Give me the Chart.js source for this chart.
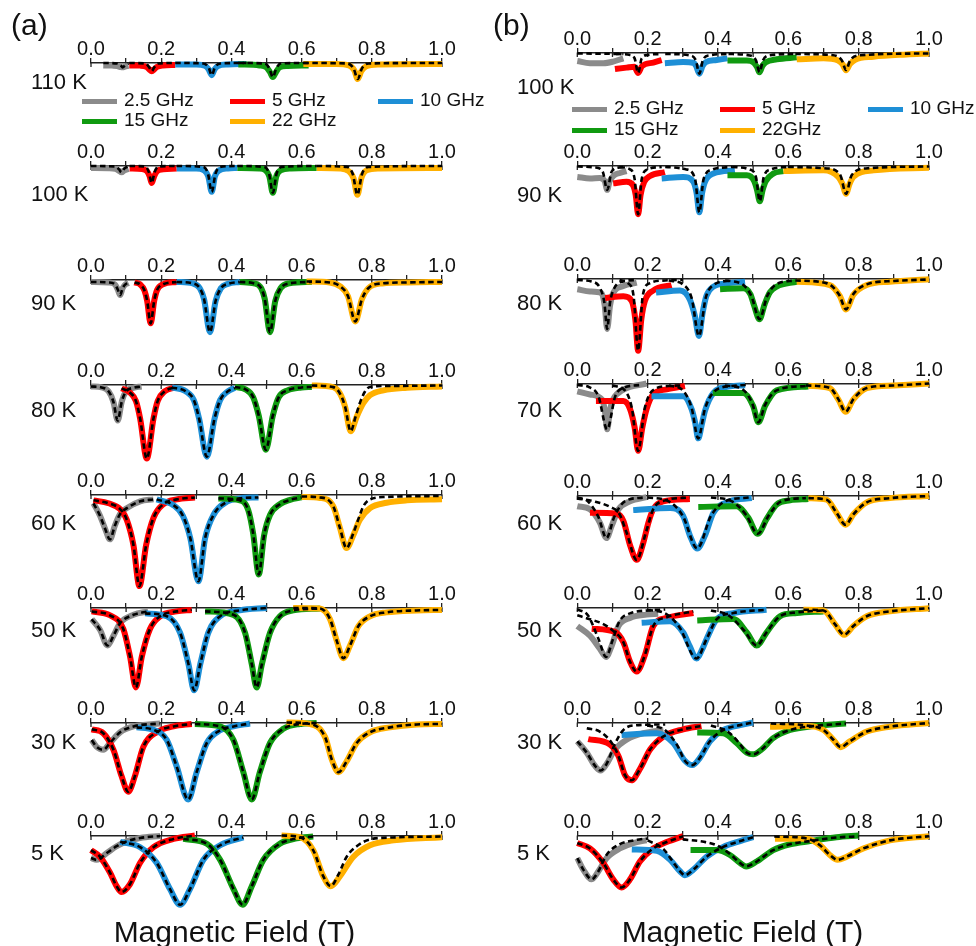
<!DOCTYPE html>
<html>
<head>
<meta charset="utf-8">
<script src="https://cdn.jsdelivr.net/npm/chart.js@4.4.0/dist/chart.umd.min.js"></script>
<style>
  body { margin: 0; background: #fff; }
  #page { position: relative; width: 976px; height: 946px; overflow: hidden; font-family: "Liberation Sans", Arial, sans-serif; color: #111; }
  #page canvas { position: absolute; }
  .txt { position: absolute; white-space: nowrap; line-height: 1.2; }
  .key { position: absolute; width: 35px; height: 5px; }
</style>
</head>
<body>
<div id="page"></div>
<script>
// ---------------- labels ----------------
const fieldTickLabels = ['0.0', '0.2', '0.4', '0.6', '0.8', '1.0'];
const freqLabelsA = ['2.5 GHz', '5 GHz', '10 GHz', '15 GHz', '22 GHz'];
const freqLabelsB = ['2.5 GHz', '5 GHz', '10 GHz', '15 GHz', '22GHz'];
const tempsA = ['110 K', '100 K', '90 K', '80 K', '60 K', '50 K', '30 K', '5 K'];
const tempsB = ['100 K', '90 K', '80 K', '70 K', '60 K', '50 K', '30 K', '5 K'];
const xTitle = 'Magnetic Field (T)';

// ---------------- panel (a) data: [field (T), signal] ----------------
const a110Gray = [[0.035,-3],[0.06,-3.2],[0.075,-3.6],[0.085,-4.8],[0.09,-5],[0.097,-4.2],[0.107,-3.5]];
const a110Red = [[0.109,-3],[0.14,-3.2],[0.158,-4.5],[0.166,-7],[0.173,-9],[0.18,-7],[0.188,-4.5],[0.205,-3],[0.24,-2.5]];
const a110Blue = [[0.24,-2],[0.3,-2],[0.325,-3.5],[0.335,-7],[0.344,-13],[0.352,-7],[0.362,-3.5],[0.39,-2],[0.443,-1.5]];
const a110Green = [[0.42,-2],[0.48,-3],[0.5,-5],[0.51,-10],[0.518,-15],[0.527,-10],[0.537,-5],[0.56,-3.5],[0.62,-3]];
const a110Orange = [[0.605,-1.5],[0.7,-1.5],[0.735,-3],[0.75,-8],[0.76,-17],[0.77,-9],[0.783,-4],[0.82,-2],[1.0,-1.5]];
const a110GrayFit = [[0.035,-0.5],[0.075,-1],[0.085,-3],[0.09,-5],[0.097,-3],[0.107,-1]];
const a110RedFit = [[0.109,-0.5],[0.155,-1],[0.166,-5],[0.173,-9],[0.18,-5],[0.19,-1],[0.24,-0.5]];
const a110BlueFit = [[0.24,-0.5],[0.32,-1],[0.335,-5],[0.344,-13],[0.353,-5],[0.368,-1],[0.443,-0.5]];
const a110GreenFit = [[0.42,-0.5],[0.495,-1],[0.508,-6],[0.518,-15],[0.528,-6],[0.54,-1],[0.62,-0.5]];
const a110OrangeFit = [[0.605,-0.5],[0.73,-1],[0.748,-6],[0.76,-17],[0.772,-6],[0.79,-1],[1.0,-0.5]];

const a100Gray = [[0,-2.5],[0.05,-2.7],[0.07,-3.5],[0.08,-5.5],[0.087,-7],[0.095,-5],[0.107,-3.5]];
const a100Red = [[0.11,-3],[0.145,-3.5],[0.16,-6],[0.167,-11],[0.173,-18],[0.18,-11],[0.188,-6],[0.205,-4],[0.244,-3]];
const a100Blue = [[0.244,-3],[0.3,-3],[0.322,-5],[0.334,-11],[0.344,-27],[0.353,-11],[0.365,-5],[0.39,-3],[0.417,-2.5]];
const a100Green = [[0.417,-2.5],[0.48,-3],[0.497,-5],[0.508,-11],[0.518,-28],[0.528,-11],[0.54,-5],[0.57,-3],[0.643,-2.5]];
const a100Orange = [[0.643,-2.5],[0.71,-3],[0.735,-6],[0.748,-13],[0.759,-30],[0.77,-13],[0.785,-5],[0.82,-3],[1.0,-2.5]];
const a100GrayFit = [[0,-0.5],[0.07,-1],[0.08,-4],[0.087,-7],[0.095,-3],[0.107,-1]];
const a100RedFit = [[0.11,-0.5],[0.155,-1],[0.165,-7],[0.173,-18],[0.181,-7],[0.192,-1],[0.244,-0.5]];
const a100BlueFit = [[0.244,-0.5],[0.32,-1.5],[0.333,-8],[0.344,-27],[0.355,-8],[0.368,-1.5],[0.417,-0.5]];
const a100GreenFit = [[0.417,-0.5],[0.493,-1.5],[0.507,-8],[0.518,-28],[0.529,-8],[0.543,-1.5],[0.643,-0.5]];
const a100OrangeFit = [[0.643,-0.5],[0.73,-1.5],[0.746,-9],[0.759,-30],[0.772,-9],[0.79,-1.5],[1.0,-0.5]];

const a90Gray = [[0,-2.5],[0.05,-3],[0.068,-5],[0.076,-10],[0.083,-16],[0.09,-9],[0.098,-5],[0.107,-3.5]];
const a90Red = [[0.124,-3],[0.14,-5],[0.152,-11],[0.16,-22],[0.17,-45],[0.18,-22],[0.188,-11],[0.205,-5],[0.244,-2.5]];
const a90Blue = [[0.244,-2.5],[0.29,-4],[0.31,-9],[0.322,-20],[0.339,-54],[0.355,-22],[0.37,-9],[0.39,-4.5],[0.424,-2.5]];
const a90Green = [[0.424,-2.5],[0.465,-4],[0.485,-9],[0.495,-20],[0.51,-54],[0.525,-22],[0.54,-9],[0.565,-4],[0.629,-2.5]];
const a90Orange = [[0.614,-2],[0.68,-3],[0.71,-7],[0.732,-17],[0.753,-43],[0.772,-20],[0.79,-9],[0.83,-4],[0.9,-3],[1.0,-2.5]];

const a80Gray = [[0,-2],[0.03,-3],[0.05,-7],[0.064,-18],[0.076,-37],[0.088,-17],[0.1,-7],[0.12,-3.5],[0.144,-2]];
const a80Red = [[0.087,-4],[0.11,-8],[0.128,-17],[0.14,-35],[0.159,-76],[0.178,-35],[0.19,-17],[0.21,-7],[0.24,-3]];
const a80Blue = [[0.23,-3],[0.27,-7],[0.293,-16],[0.308,-35],[0.33,-74],[0.352,-35],[0.368,-16],[0.39,-7],[0.41,-3.5]];
const a80Green = [[0.41,-2.5],[0.44,-5],[0.462,-13],[0.478,-32],[0.498,-67],[0.518,-32],[0.535,-13],[0.56,-6],[0.6,-3],[0.629,-2.5]];
const a80Orange = [[0.629,-1],[0.69,-2.7],[0.709,-9],[0.724,-23],[0.74,-48],[0.757,-33],[0.776,-19],[0.795,-11],[0.833,-6],[0.9,-3.3],[1.0,-2]];
const a80OrangeFit = [[0.629,-1],[0.69,-2.7],[0.709,-9],[0.724,-23],[0.74,-48],[0.753,-34],[0.766,-19],[0.781,-7],[0.795,-2.5],[0.85,-1.5],[1.0,-1]];

const a60Gray = [[0.007,-9],[0.026,-22],[0.04,-35],[0.054,-46],[0.068,-32],[0.083,-20],[0.102,-14],[0.14,-7],[0.178,-5]];
const a60Red = [[0.007,-6],[0.05,-9],[0.083,-15],[0.102,-26],[0.121,-52],[0.138,-94],[0.157,-52],[0.178,-24],[0.206,-10],[0.244,-5],[0.296,-3]];
const a60Blue = [[0.187,-5],[0.235,-11],[0.262,-22],[0.283,-45],[0.306,-89],[0.325,-45],[0.349,-21],[0.387,-7.5],[0.424,-4],[0.477,-3]];
const a60Green = [[0.363,-4],[0.424,-6],[0.448,-16],[0.462,-40],[0.478,-82],[0.493,-42],[0.51,-21],[0.538,-10],[0.567,-5.5],[0.6,-3]];
const a60Orange = [[0.6,-2.5],[0.652,-3.5],[0.69,-12],[0.709,-34],[0.728,-55],[0.747,-42],[0.766,-26],[0.795,-14],[0.842,-8.5],[0.9,-6],[1.0,-5]];
const a60OrangeFit = [[0.6,-2],[0.652,-3],[0.69,-12],[0.709,-34],[0.728,-55],[0.747,-40],[0.762,-25],[0.776,-12],[0.795,-5],[0.84,-2.5],[1.0,-1.5]];

const a50Gray = [[0.002,-12],[0.026,-23],[0.047,-39],[0.064,-29],[0.083,-16],[0.121,-7.5],[0.163,-4]];
const a50Red = [[0.002,-4],[0.054,-8],[0.092,-22],[0.111,-50],[0.128,-82],[0.145,-50],[0.168,-22],[0.197,-9],[0.244,-4],[0.287,-2.5]];
const a50Blue = [[0.154,-6],[0.216,-9],[0.254,-26],[0.277,-57],[0.294,-85],[0.312,-57],[0.334,-26],[0.368,-9],[0.424,-3],[0.5,-0.5]];
const a50Green = [[0.325,-4],[0.406,-7.5],[0.439,-26],[0.458,-58],[0.472,-82],[0.487,-58],[0.51,-26],[0.538,-9],[0.576,-3],[0.652,-1]];
const a50Orange = [[0.576,-0.5],[0.652,-1],[0.681,-12],[0.7,-34],[0.719,-52],[0.738,-39],[0.762,-19],[0.795,-9],[0.842,-5],[0.928,-3],[1.0,-2.5]];

const a30Gray = [[0.002,-18],[0.016,-25],[0.035,-28],[0.054,-21],[0.083,-10],[0.121,-4],[0.197,-1]];
const a30Red = [[0.002,-7],[0.035,-11],[0.064,-28],[0.087,-55],[0.106,-71],[0.125,-55],[0.149,-25],[0.187,-10],[0.235,-4],[0.287,-1.5]];
const a30Blue = [[0.13,-5],[0.178,-7.5],[0.216,-18],[0.244,-45],[0.277,-79],[0.301,-51],[0.33,-21],[0.368,-8],[0.406,-4],[0.453,-1]];
const a30Green = [[0.296,-1.5],[0.368,-4],[0.406,-18],[0.434,-51],[0.458,-79],[0.481,-51],[0.51,-21],[0.548,-6.5],[0.595,-1.5],[0.643,-0.5]];
const a30Orange = [[0.557,0],[0.624,-1.5],[0.667,-15],[0.686,-38],[0.705,-51],[0.728,-40],[0.757,-21],[0.795,-10],[0.852,-5],[0.928,-2],[1.0,-1.5]];

const a5Gray = [[0,-23],[0.016,-25],[0.045,-18],[0.073,-11],[0.102,-6],[0.14,-2.5],[0.197,-0.5]];
const a5Red = [[0,-15],[0.026,-22],[0.054,-38],[0.073,-52],[0.087,-58],[0.111,-50],[0.14,-28],[0.178,-12],[0.235,-3.5],[0.296,0]];
const a5Blue = [[0.083,-6.5],[0.14,-12],[0.187,-28],[0.225,-55],[0.254,-71],[0.282,-55],[0.32,-25],[0.368,-10],[0.434,-2]];
const a5Green = [[0.263,-3.5],[0.33,-8.5],[0.368,-25],[0.406,-55],[0.432,-71],[0.458,-52],[0.491,-25],[0.538,-8.5],[0.586,-3],[0.633,-1]];
const a5Orange = [[0.543,0],[0.595,-1.7],[0.633,-15],[0.662,-42],[0.683,-52],[0.709,-42],[0.747,-22],[0.795,-10],[0.862,-5],[1.0,-1.7]];
const a5OrangeFit = [[0.543,0],[0.595,-1.7],[0.633,-15],[0.662,-42],[0.683,-52],[0.705,-40],[0.728,-22],[0.757,-11],[0.795,-4],[0.86,-2],[1.0,-1]];

// ---------------- panel (b) data ----------------
const b100Gray = [[0,-8.7],[0.036,-11],[0.074,-11],[0.102,-9.3],[0.131,-6]];
const b100Red = [[0.107,-17],[0.14,-15.5],[0.162,-14.5],[0.173,-21],[0.184,-14],[0.216,-10.3],[0.24,-7.7]];
const b100Blue = [[0.249,-11],[0.301,-9.7],[0.33,-10.5],[0.338,-14],[0.347,-21.7],[0.356,-14],[0.365,-10],[0.396,-7.7],[0.427,-6]];
const b100Green = [[0.427,-8.3],[0.482,-8.3],[0.502,-10.5],[0.511,-15],[0.518,-20.3],[0.526,-14],[0.536,-10],[0.567,-7],[0.624,-5]];
const b100Orange = [[0.624,-7],[0.7,-6],[0.74,-8],[0.754,-12],[0.764,-18.3],[0.775,-12],[0.79,-7.5],[0.842,-4.3],[0.936,-2],[1.0,-1]];
const b100GrayFit = [[0,-1],[0.131,-1.5]];
const b100RedFit = [[0.11,-1.5],[0.15,-2.5],[0.163,-6],[0.173,-21],[0.183,-6],[0.2,-2.5],[0.24,-1.5]];
const b100BlueFit = [[0.25,-1.5],[0.32,-3],[0.337,-8],[0.347,-21.7],[0.357,-8],[0.375,-3],[0.43,-1.5]];
const b100GreenFit = [[0.43,-1.5],[0.49,-3],[0.508,-8],[0.518,-20],[0.528,-8],[0.545,-3],[0.62,-1.5]];
const b100OrangeFit = [[0.62,-1.5],[0.72,-2.5],[0.752,-8],[0.764,-18],[0.776,-8],[0.8,-3],[1.0,-1]];

const b90Gray = [[0,-11.7],[0.036,-13.3],[0.064,-12.7],[0.078,-16],[0.085,-25],[0.092,-16],[0.105,-10],[0.121,-7.7],[0.14,-5.7]];
const b90Red = [[0.102,-18.3],[0.14,-16.7],[0.158,-20],[0.166,-30],[0.173,-50],[0.18,-30],[0.19,-17],[0.207,-10.7],[0.249,-6.7]];
const b90Blue = [[0.24,-13.3],[0.301,-11.7],[0.33,-16.7],[0.339,-28],[0.347,-48],[0.355,-28],[0.363,-16.7],[0.387,-8.3],[0.448,-5]];
const b90Green = [[0.427,-10],[0.482,-10],[0.503,-16],[0.511,-25],[0.519,-36.7],[0.527,-25],[0.536,-16],[0.557,-8.3],[0.586,-5.7]];
const b90Orange = [[0.586,-5.7],[0.7,-5],[0.742,-11.7],[0.754,-19],[0.764,-29],[0.774,-19],[0.785,-11.7],[0.842,-5],[1.0,-2.3]];
const b90GrayFit = [[0,-1],[0.05,-2],[0.072,-6],[0.085,-25],[0.098,-6],[0.12,-2],[0.14,-1.5]];
const b90RedFit = [[0.12,-1.5],[0.15,-4],[0.163,-14],[0.173,-50],[0.183,-14],[0.2,-4],[0.24,-1.5]];
const b90BlueFit = [[0.25,-1.5],[0.31,-4],[0.335,-14],[0.347,-48],[0.359,-14],[0.385,-4],[0.44,-1.5]];
const b90GreenFit = [[0.44,-1.5],[0.49,-4],[0.508,-12],[0.519,-36.7],[0.53,-12],[0.55,-4],[0.6,-1.5]];
const b90OrangeFit = [[0.6,-1.5],[0.71,-3],[0.748,-10],[0.764,-29],[0.78,-10],[0.82,-3],[1.0,-1]];

const b80Gray = [[0,-11],[0.036,-13.3],[0.069,-15],[0.078,-28],[0.085,-51.7],[0.093,-28],[0.102,-15],[0.131,-7.7],[0.169,-4.3]];
const b80Red = [[0.079,-20],[0.131,-18.3],[0.155,-23.3],[0.165,-42],[0.173,-74],[0.182,-42],[0.192,-23.3],[0.216,-12.3],[0.268,-6.7]];
const b80Blue = [[0.224,-14.3],[0.292,-12.3],[0.32,-21.7],[0.334,-38],[0.346,-59],[0.356,-36],[0.367,-18],[0.387,-8.3],[0.425,-5],[0.477,-3.3]];
const b80Green = [[0.406,-11],[0.472,-10],[0.492,-16],[0.503,-28],[0.518,-41.7],[0.533,-26],[0.548,-14],[0.567,-8.3],[0.624,-3.3]];
const b80Orange = [[0.624,-3.3],[0.718,-6.7],[0.747,-18.3],[0.764,-31.7],[0.785,-16.7],[0.823,-6.7],[0.889,-3.3],[1.0,-0.7]];
const b80GrayFit = [[0,-1.5],[0.04,-3],[0.065,-10],[0.077,-25],[0.085,-51.7],[0.093,-25],[0.105,-10],[0.13,-3],[0.17,-1.5]];
const b80RedFit = [[0.12,-1.5],[0.145,-5],[0.16,-18],[0.173,-74],[0.186,-18],[0.205,-5],[0.25,-2],[0.3,-1.5]];
const b80BlueFit = [[0.26,-2],[0.3,-6],[0.325,-20],[0.346,-59],[0.365,-20],[0.39,-6],[0.44,-2]];
const b80GreenFit = [[0.42,-2],[0.47,-6],[0.495,-18],[0.518,-41.7],[0.54,-18],[0.565,-6],[0.62,-2]];
const b80OrangeFit = [[0.62,-2],[0.71,-5],[0.745,-17],[0.764,-31.7],[0.785,-16],[0.823,-6],[0.9,-2.5],[1.0,-1]];

const b70Gray = [[0,-8],[0.036,-11.3],[0.07,-16.3],[0.078,-27],[0.085,-47],[0.093,-27],[0.102,-16.3],[0.131,-6.3],[0.197,0]];
const b70Red = [[0.053,-18],[0.131,-18],[0.15,-26.3],[0.163,-45],[0.173,-69],[0.185,-45],[0.197,-26.3],[0.216,-11],[0.254,-6],[0.306,-2.5]];
const b70Blue = [[0.211,-13],[0.301,-13],[0.325,-26.3],[0.335,-40],[0.344,-56.3],[0.354,-42],[0.363,-28],[0.387,-9.7],[0.434,-3],[0.477,-1.7]];
const b70Green = [[0.385,-9.7],[0.472,-9.7],[0.5,-23],[0.515,-39.7],[0.534,-23],[0.567,-7],[0.657,-3]];
const b70Orange = [[0.657,-2.3],[0.718,-4.7],[0.742,-16.3],[0.763,-29],[0.785,-16.3],[0.823,-4.7],[0.9,-2],[1.0,0]];
const b70GrayFit = [[0,-1.5],[0.035,-4],[0.06,-13],[0.085,-47],[0.108,-13],[0.135,-4],[0.18,-1.5]];
const b70RedFit = [[0.1,-2],[0.135,-7],[0.155,-25],[0.173,-69],[0.192,-25],[0.215,-7],[0.26,-2.5],[0.3,-2]];
const b70BlueFit = [[0.26,-2],[0.3,-7],[0.325,-25],[0.344,-56.3],[0.363,-26],[0.39,-8],[0.44,-2.5],[0.48,-1.5]];
const b70GreenFit = [[0.42,-2],[0.47,-6],[0.497,-20],[0.515,-39.7],[0.534,-22],[0.567,-7],[0.65,-2.5]];
const b70OrangeFit = [[0.65,-2],[0.718,-4.5],[0.742,-16],[0.763,-29],[0.785,-16],[0.823,-4.7],[0.9,-2],[1.0,0]];

const b60Gray = [[0,-11],[0.036,-14.3],[0.064,-27.7],[0.083,-43.7],[0.098,-31],[0.117,-14.3],[0.15,-6],[0.197,-1.7]];
const b60Red = [[0.036,-17.7],[0.112,-18.7],[0.131,-26],[0.15,-51],[0.169,-66],[0.188,-48],[0.202,-28],[0.216,-14],[0.244,-6],[0.32,-3.5]];
const b60Blue = [[0.159,-15],[0.264,-12.7],[0.301,-21],[0.32,-41],[0.341,-54.3],[0.363,-41],[0.387,-17.7],[0.434,-6],[0.496,-2.7]];
const b60Green = [[0.344,-11.7],[0.453,-11],[0.486,-22.7],[0.513,-39.3],[0.538,-24.3],[0.567,-9.3],[0.605,-5],[0.657,-3.7]];
const b60Orange = [[0.657,-2.7],[0.709,-4.3],[0.737,-17.7],[0.763,-30],[0.785,-19.3],[0.823,-7],[0.889,-2.7],[1.0,-0.5]];
const b60GrayFit = [[0,-2],[0.03,-6],[0.06,-22],[0.083,-43.7],[0.105,-22],[0.135,-6],[0.19,-2]];
const b60RedFit = [[0,-3],[0.047,-6],[0.095,-12],[0.119,-18.5],[0.14,-38],[0.169,-66],[0.195,-38],[0.216,-14],[0.25,-5],[0.32,-2]];
const b60BlueFit = [[0.2,-2],[0.26,-6],[0.3,-21],[0.341,-54.3],[0.38,-21],[0.42,-6],[0.49,-2]];
const b60GreenFit = [[0.38,-2],[0.44,-6],[0.48,-20],[0.513,-39.3],[0.545,-20],[0.58,-6],[0.65,-2.5]];

const b50Gray = [[0,-19],[0.036,-29],[0.064,-42.3],[0.082,-50.7],[0.098,-39],[0.117,-19],[0.15,-10.7],[0.197,-7.3],[0.23,-6.3]];
const b50Red = [[0.041,-21.7],[0.107,-25],[0.131,-35.7],[0.15,-55.7],[0.169,-65.7],[0.192,-49],[0.216,-19],[0.254,-10.7],[0.33,-5.7]];
const b50Blue = [[0.183,-15.7],[0.264,-14],[0.301,-25.7],[0.32,-40],[0.339,-52.3],[0.355,-43],[0.368,-32],[0.396,-12.3],[0.444,-5.7],[0.538,-2.3]];
const b50Green = [[0.341,-13.3],[0.444,-11.7],[0.482,-25.7],[0.51,-39],[0.538,-25.7],[0.576,-9],[0.624,-5.7],[0.7,-4]];
const b50Orange = [[0.643,-2.3],[0.7,-3],[0.733,-17.3],[0.759,-28],[0.785,-19],[0.823,-9],[0.889,-4],[1.0,-0.7]];
const b50GrayFit = [[0,-2],[0.03,-8],[0.06,-32],[0.082,-50.7],[0.1,-34],[0.12,-14],[0.15,-6],[0.2,-3],[0.25,-2]];
const b50RedFit = [[0,-8],[0.036,-12],[0.074,-17],[0.102,-24],[0.131,-35.7],[0.15,-55.7],[0.169,-65.7],[0.192,-49],[0.216,-19],[0.254,-10],[0.33,-4]];
const b50BlueFit = [[0.2,-2.5],[0.25,-6],[0.29,-20],[0.339,-52.3],[0.368,-32],[0.396,-12.3],[0.444,-5.7],[0.538,-2.3]];
const b50GreenFit = [[0.38,-3],[0.43,-8],[0.475,-24],[0.51,-39],[0.538,-25.7],[0.576,-9],[0.624,-5],[0.7,-3]];

const b30Gray = [[0,-19.3],[0.027,-31],[0.05,-44.3],[0.066,-49.3],[0.083,-42.7],[0.107,-27.7],[0.14,-17.7],[0.188,-11],[0.245,-7.7]];
const b30Red = [[0.031,-17],[0.093,-22.7],[0.117,-34.3],[0.136,-54.3],[0.154,-59.3],[0.178,-47.7],[0.207,-27.7],[0.245,-14.3],[0.301,-7],[0.353,-3.7]];
const b30Blue = [[0.126,-12.7],[0.226,-11],[0.273,-21],[0.306,-39.3],[0.327,-43.7],[0.349,-36],[0.377,-19.3],[0.415,-7.7],[0.463,-2.7],[0.5,0]];
const b30Green = [[0.341,-10.3],[0.415,-11],[0.453,-21],[0.482,-31],[0.5,-32.7],[0.524,-27.7],[0.557,-16],[0.605,-7.7],[0.671,-3.7],[0.764,-1]];
const b30Orange = [[0.548,-4.3],[0.652,-3.7],[0.7,-7.7],[0.728,-17.7],[0.749,-25.3],[0.775,-19.3],[0.823,-9.3],[0.889,-4.3],[1.0,-0.5]];
const b30GrayFit = [[0,-19.3],[0.027,-31],[0.05,-44.3],[0.066,-49.3],[0.083,-42.7],[0.107,-22],[0.13,-8],[0.16,-3],[0.25,-2]];
const b30RedFit = [[0.027,-6],[0.064,-9.3],[0.098,-21],[0.117,-34.3],[0.136,-54.3],[0.154,-59.3],[0.178,-47.7],[0.207,-27.7],[0.245,-14.3],[0.301,-7],[0.353,-3.7]];
const b30BlueFit = [[0.2,-3],[0.25,-8],[0.285,-24],[0.306,-39.3],[0.327,-43.7],[0.349,-36],[0.377,-19.3],[0.415,-7.7],[0.463,-2.7],[0.5,0]];
const b30GreenFit = [[0.38,-3],[0.43,-10],[0.46,-21],[0.482,-31],[0.5,-32.7],[0.524,-27.7],[0.557,-16],[0.605,-7.7],[0.671,-3.7],[0.764,-1]];
const b30OrangeFit = [[0.55,-1],[0.652,-3],[0.7,-7.7],[0.728,-17.7],[0.749,-25.3],[0.775,-19.3],[0.823,-9.3],[0.889,-4.3],[1.0,-0.5]];

const b5Gray = [[0,-23.3],[0.017,-35],[0.041,-45],[0.06,-36.7],[0.083,-23.3],[0.121,-13.3],[0.159,-7.7],[0.197,-5]];
const b5Red = [[0,-7.7],[0.036,-13.3],[0.074,-28.3],[0.102,-45],[0.126,-53.3],[0.15,-45],[0.178,-26.7],[0.216,-13.3],[0.254,-6.7],[0.301,-0.7]];
const b5Blue = [[0.155,-14.3],[0.226,-15.7],[0.264,-25],[0.292,-36.7],[0.306,-40.7],[0.33,-35],[0.368,-21.7],[0.415,-11.7],[0.463,-5.7],[0.5,-1.7]];
const b5Green = [[0.322,-15],[0.396,-15],[0.434,-20],[0.463,-28.3],[0.48,-31.7],[0.51,-26.7],[0.557,-15],[0.605,-9],[0.662,-5.7],[0.737,-1.7],[0.8,0]];
const b5Orange = [[0.562,-3.3],[0.652,-3.3],[0.69,-10],[0.718,-20],[0.74,-25],[0.766,-21.7],[0.813,-13.3],[0.889,-5],[1.0,-0.7]];
const b5GrayFit = [[0,-23.3],[0.017,-35],[0.041,-45],[0.06,-36.7],[0.083,-20],[0.12,-9],[0.16,-5],[0.2,-3]];
const b5BlueFit = [[0.2,-5],[0.245,-14],[0.27,-26],[0.292,-36.7],[0.306,-40.7],[0.33,-35],[0.368,-21.7],[0.415,-11.7],[0.463,-5.7],[0.5,-1.7]];
const b5GreenFit = [[0.3,-4],[0.36,-6.5],[0.396,-10],[0.434,-19],[0.463,-28.3],[0.48,-31.7],[0.51,-26.7],[0.557,-15],[0.605,-9],[0.662,-5.7],[0.737,-2],[0.8,-1]];
const b5OrangeFit = [[0.56,-1],[0.652,-3],[0.69,-10],[0.718,-20],[0.74,-25],[0.766,-21.7],[0.813,-13.3],[0.889,-5],[1.0,-0.7]];

// ---------------- layout ----------------
const colors = ['#8b8b8b', '#ff0000', '#1e8fd6', '#109a10', '#ffb000'];
const AXIS = '#222';
const FONT = '"Liberation Sans", Arial, sans-serif';
const page = document.getElementById('page');

const panelA = { x0: 91, w: 351, labelX: 31 };
const panelB = { x0: 577.3, w: 351.7, labelX: 517 };

const rowsA = [
    { axisY: 62, labelY: 81.7, curves: [a110Gray, a110Red, a110Blue, a110Green, a110Orange], fits: [a110GrayFit, a110RedFit, a110BlueFit, a110GreenFit, a110OrangeFit] },
    { axisY: 165.7, labelY: 194, curves: [a100Gray, a100Red, a100Blue, a100Green, a100Orange], fits: [a100GrayFit, a100RedFit, a100BlueFit, a100GreenFit, a100OrangeFit] },
    { axisY: 279, labelY: 302.7, curves: [a90Gray, a90Red, a90Blue, a90Green, a90Orange], fits: [a90Gray, a90Red, a90Blue, a90Green, a90Orange] },
    { axisY: 384, labelY: 410, curves: [a80Gray, a80Red, a80Blue, a80Green, a80Orange], fits: [a80Gray, a80Red, a80Blue, a80Green, a80OrangeFit] },
    { axisY: 494.3, labelY: 523, curves: [a60Gray, a60Red, a60Blue, a60Green, a60Orange], fits: [a60Gray, a60Red, a60Blue, a60Green, a60OrangeFit] },
    { axisY: 607.7, labelY: 630, curves: [a50Gray, a50Red, a50Blue, a50Green, a50Orange], fits: [a50Gray, a50Red, a50Blue, a50Green, a50Orange] },
    { axisY: 722, labelY: 741.7, curves: [a30Gray, a30Red, a30Blue, a30Green, a30Orange], fits: [a30Gray, a30Red, a30Blue, a30Green, a30Orange] },
    { axisY: 835, labelY: 852.7, curves: [a5Gray, a5Red, a5Blue, a5Green, a5Orange], fits: [a5Gray, a5Red, a5Blue, a5Green, a5OrangeFit] },
];

const rowsB = [
    { axisY: 52.3, labelY: 87, curves: [b100Gray, b100Red, b100Blue, b100Green, b100Orange], fits: [b100GrayFit, b100RedFit, b100BlueFit, b100GreenFit, b100OrangeFit] },
    { axisY: 165, labelY: 195, curves: [b90Gray, b90Red, b90Blue, b90Green, b90Orange], fits: [b90GrayFit, b90RedFit, b90BlueFit, b90GreenFit, b90OrangeFit] },
    { axisY: 278.3, labelY: 302.7, curves: [b80Gray, b80Red, b80Blue, b80Green, b80Orange], fits: [b80GrayFit, b80RedFit, b80BlueFit, b80GreenFit, b80OrangeFit] },
    { axisY: 383.7, labelY: 410, curves: [b70Gray, b70Red, b70Blue, b70Green, b70Orange], fits: [b70GrayFit, b70RedFit, b70BlueFit, b70GreenFit, b70OrangeFit] },
    { axisY: 495.7, labelY: 523, curves: [b60Gray, b60Red, b60Blue, b60Green, b60Orange], fits: [b60GrayFit, b60RedFit, b60BlueFit, b60GreenFit, b60Orange] },
    { axisY: 607.7, labelY: 630, curves: [b50Gray, b50Red, b50Blue, b50Green, b50Orange], fits: [b50GrayFit, b50RedFit, b50BlueFit, b50GreenFit, b50Orange] },
    { axisY: 722.3, labelY: 741.7, curves: [b30Gray, b30Red, b30Blue, b30Green, b30Orange], fits: [b30GrayFit, b30RedFit, b30BlueFit, b30GreenFit, b30OrangeFit] },
    { axisY: 835, labelY: 853, curves: [b5Gray, b5Red, b5Blue, b5Green, b5Orange], fits: [b5GrayFit, b5Red, b5BlueFit, b5GreenFit, b5OrangeFit] },
];

// tick marks crossing the axis line (Chart.js only draws the outer half)
const tickDown = {
    id: 'tickDown',
    beforeDatasetsDraw(chart) {
        const sc = chart.scales.x, ctx = chart.ctx, top = chart.chartArea.top;
        ctx.save();
        ctx.strokeStyle = AXIS;
        ctx.lineWidth = 1.3;
        sc.ticks.forEach(t => {
            const px = sc.getPixelForValue(t.value);
            ctx.beginPath();
            ctx.moveTo(px, top);
            ctx.lineTo(px, top + 4.5);
            ctx.stroke();
        });
        ctx.restore();
    }
};

function toXY(pts) {
    return pts.map(p => ({ x: p[0], y: p[1] }));
}

function addText(str, x, capMidY, size, center) {
    const d = document.createElement('div');
    d.className = 'txt';
    d.textContent = str;
    d.style.fontSize = size + 'px';
    d.style.top = (capMidY - 0.5885 * size) + 'px';
    d.style.left = x + 'px';
    if (center) d.style.transform = 'translateX(-50%)';
    page.appendChild(d);
}

function drawRow(panel, row, temp) {
    const PAD = 24;
    const left = Math.floor(panel.x0 - PAD);
    const padL = panel.x0 - left;
    const width = Math.ceil(padL + panel.w + PAD);
    const cv = document.createElement('canvas');
    cv.width = width;
    cv.height = 140;
    cv.style.left = left + 'px';
    page.appendChild(cv);

    let datasets = [];
    row.fits.forEach(pts => {
        datasets.push({ data: toXY(pts), borderColor: '#000', borderWidth: 2.6, borderDash: [5.5, 3.5], order: 0, clip: 8 });
    });
    row.curves.forEach((pts, i) => {
        datasets.push({ data: toXY(pts), borderColor: colors[i], borderWidth: 6, order: 10 - i, clip: 8 });
    });

    const chart = new Chart(cv, {
        type: 'line',
        data: { datasets: datasets },
        options: {
            responsive: false,
            animation: false,
            events: [],
            layout: { padding: { left: padL, right: width - padL - panel.w, top: 0, bottom: 0 } },
            plugins: { legend: { display: false }, tooltip: { enabled: false } },
            elements: {
                point: { radius: 0 },
                line: { cubicInterpolationMode: 'monotone', borderCapStyle: 'butt', fill: false }
            },
            scales: {
                x: {
                    type: 'linear',
                    position: 'top',
                    min: 0,
                    max: 1,
                    border: { display: true, color: AXIS, width: 1.5 },
                    grid: { drawOnChartArea: false, drawTicks: true, tickLength: 4.5, color: AXIS, lineWidth: 1.3 },
                    ticks: {
                        stepSize: 0.1,
                        autoSkip: false,
                        maxRotation: 0,
                        padding: -3.5,
                        color: '#111',
                        font: { family: FONT, size: 20 },
                        callback: function(v) {
                            const s = Number(v).toFixed(1);
                            return fieldTickLabels.includes(s) ? s : '';
                        }
                    }
                },
                y: { display: false, min: -110, max: 0 }
            }
        },
        plugins: [tickDown]
    });

    const area = chart.chartArea;
    chart.options.scales.y.min = -(area.bottom - area.top);
    chart.update('none');
    cv.style.top = (row.axisY - area.top) + 'px';

    addText(temp, panel.labelX, row.labelY, 22, false);
}

rowsA.forEach((row, i) => drawRow(panelA, row, tempsA[i]));
rowsB.forEach((row, i) => drawRow(panelB, row, tempsB[i]));

// ---------------- legends ----------------
function drawLegend(labels, slots) {
    labels.forEach((lab, i) => {
        const s = slots[i];
        const k = document.createElement('div');
        k.className = 'key';
        k.style.background = colors[i];
        k.style.left = s[0] + 'px';
        k.style.top = (s[1] - 2.5) + 'px';
        page.appendChild(k);
        addText(lab, s[0] + 42, s[1] - 1.5, 19, false);
    });
}
drawLegend(freqLabelsA, [[82, 101.7], [230, 101.7], [378, 101.7], [82, 121.7], [230, 121.7]]);
drawLegend(freqLabelsB, [[572, 109.3], [720, 109.3], [868, 109.3], [572, 130.7], [720, 130.7]]);

// ---------------- panel tags and axis titles ----------------
addText('(a)', 11, 25, 30, false);
addText('(b)', 493, 25, 30, false);
addText(xTitle, 234.5, 931.7, 30, true);
addText(xTitle, 742.5, 931.7, 30, true);
</script>
</body>
</html>
